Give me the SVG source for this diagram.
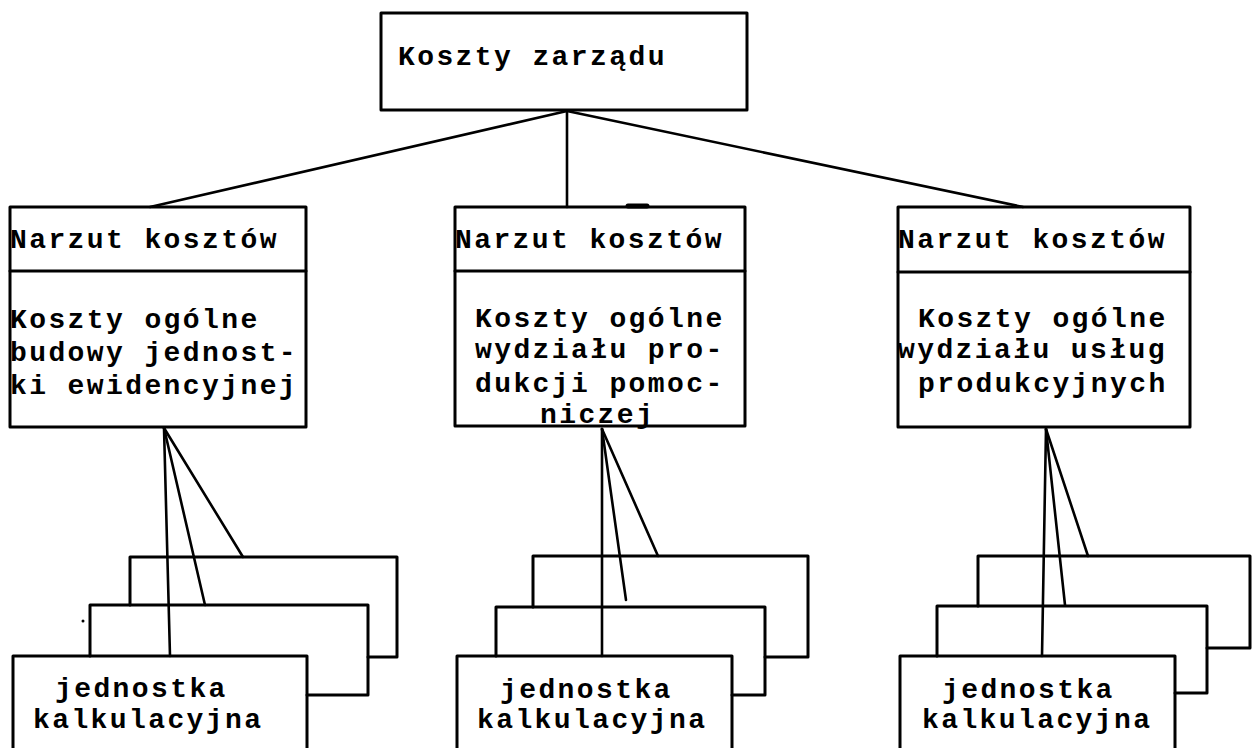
<svg xmlns="http://www.w3.org/2000/svg" width="1253" height="748" viewBox="0 0 1253 748">
  <style>
    .box { fill: none; stroke: #000; stroke-width: 3; stroke-linejoin: round; stroke-linecap: round; }
    .link { fill: none; stroke: #000; stroke-width: 2.6; stroke-linecap: round; }
    .t { font-family: "Liberation Mono", "Courier New", monospace; font-size: 28px; letter-spacing: 2.4px; font-weight: bold; fill: #000; }
  </style>
  <rect width="1253" height="748" fill="#fff"/>

  <!-- connectors -->
  <g id="connectors">
    <line class="link" x1="567" y1="111" x2="150" y2="207"/>
    <line class="link" x1="567" y1="111" x2="567" y2="207"/>
    <line class="link" x1="567" y1="111" x2="1023" y2="207"/>

    <line class="link" x1="164" y1="428" x2="170" y2="656"/>
    <line class="link" x1="164" y1="428" x2="205" y2="605"/>
    <line class="link" x1="164" y1="428" x2="243" y2="557"/>

    <line class="link" x1="602" y1="429" x2="602" y2="656"/>
    <line class="link" x1="602" y1="429" x2="626" y2="600"/>
    <line class="link" x1="602" y1="429" x2="658" y2="556"/>

    <line class="link" x1="1046" y1="429" x2="1042" y2="656"/>
    <line class="link" x1="1046" y1="429" x2="1065" y2="605"/>
    <line class="link" x1="1046" y1="429" x2="1088" y2="556"/>
  </g>

  <!-- top node -->
  <g id="koszty-zarzadu">
    <rect class="box" x="381" y="13" width="366" height="97"/>
    <text class="t" x="398" y="65">Koszty zarządu</text>
  </g>

  <!-- overhead node, left -->
  <g id="narzut-budowy">
    <rect class="box" x="10" y="207" width="296" height="220"/>
    <line class="box" x1="10" y1="271" x2="306" y2="271"/>
    <text class="t" x="10" y="248">Narzut kosztów</text>
    <text class="t" x="10" y="328">Koszty ogólne</text>
    <text class="t" x="10" y="361">budowy jednost-</text>
    <text class="t" x="10" y="394">ki ewidencyjnej</text>
  </g>

  <!-- overhead node, middle -->
  <g id="narzut-produkcji-pomocniczej">
    <rect class="box" x="455" y="207" width="290" height="219"/>
    <line class="box" x1="455" y1="271" x2="745" y2="271"/>
    <line x1="628" y1="206" x2="647" y2="206" stroke="#000" stroke-width="5" stroke-linecap="round"/>
    <text class="t" x="455" y="248">Narzut kosztów</text>
    <text class="t" x="475" y="327">Koszty ogólne</text>
    <text class="t" x="475" y="358">wydziału pro-</text>
    <text class="t" x="475" y="392">dukcji pomoc-</text>
    <text class="t" x="540" y="423">niczej</text>
  </g>

  <!-- overhead node, right -->
  <g id="narzut-uslug-produkcyjnych">
    <rect class="box" x="898" y="207" width="292" height="220"/>
    <line class="box" x1="898" y1="272" x2="1190" y2="272"/>
    <text class="t" x="898" y="248">Narzut kosztów</text>
    <text class="t" x="918" y="327">Koszty ogólne</text>
    <text class="t" x="898" y="358">wydziału usług</text>
    <text class="t" x="918" y="392">produkcyjnych</text>
  </g>

  <!-- cost units, left stack -->
  <g id="jednostka-1">
    <path class="box" d="M130,605 V557 H397 V657 H368"/>
    <path class="box" d="M90,656 V605 H368 V695 H307"/>
    <path class="box" d="M13,752 V656 H307 V752"/>
    <circle cx="83" cy="621" r="1.5" fill="#000"/>
    <text class="t" x="55" y="697">jednostka</text>
    <text class="t" x="33" y="728">kalkulacyjna</text>
  </g>

  <!-- cost units, middle stack -->
  <g id="jednostka-2">
    <path class="box" d="M533,607 V556 H808 V657 H765"/>
    <path class="box" d="M496,656 V607 H765 V695 H732"/>
    <path class="box" d="M457,752 V656 H732 V752"/>
    <text class="t" x="500" y="698">jednostka</text>
    <text class="t" x="477" y="728">kalkulacyjna</text>
  </g>

  <!-- cost units, right stack -->
  <g id="jednostka-3">
    <path class="box" d="M978,606 V556 H1250 V648 H1207"/>
    <path class="box" d="M937,656 V606 H1207 V693 H1175"/>
    <path class="box" d="M900,752 V656 H1175 V752"/>
    <text class="t" x="942" y="698">jednostka</text>
    <text class="t" x="922" y="728">kalkulacyjna</text>
  </g>
</svg>
